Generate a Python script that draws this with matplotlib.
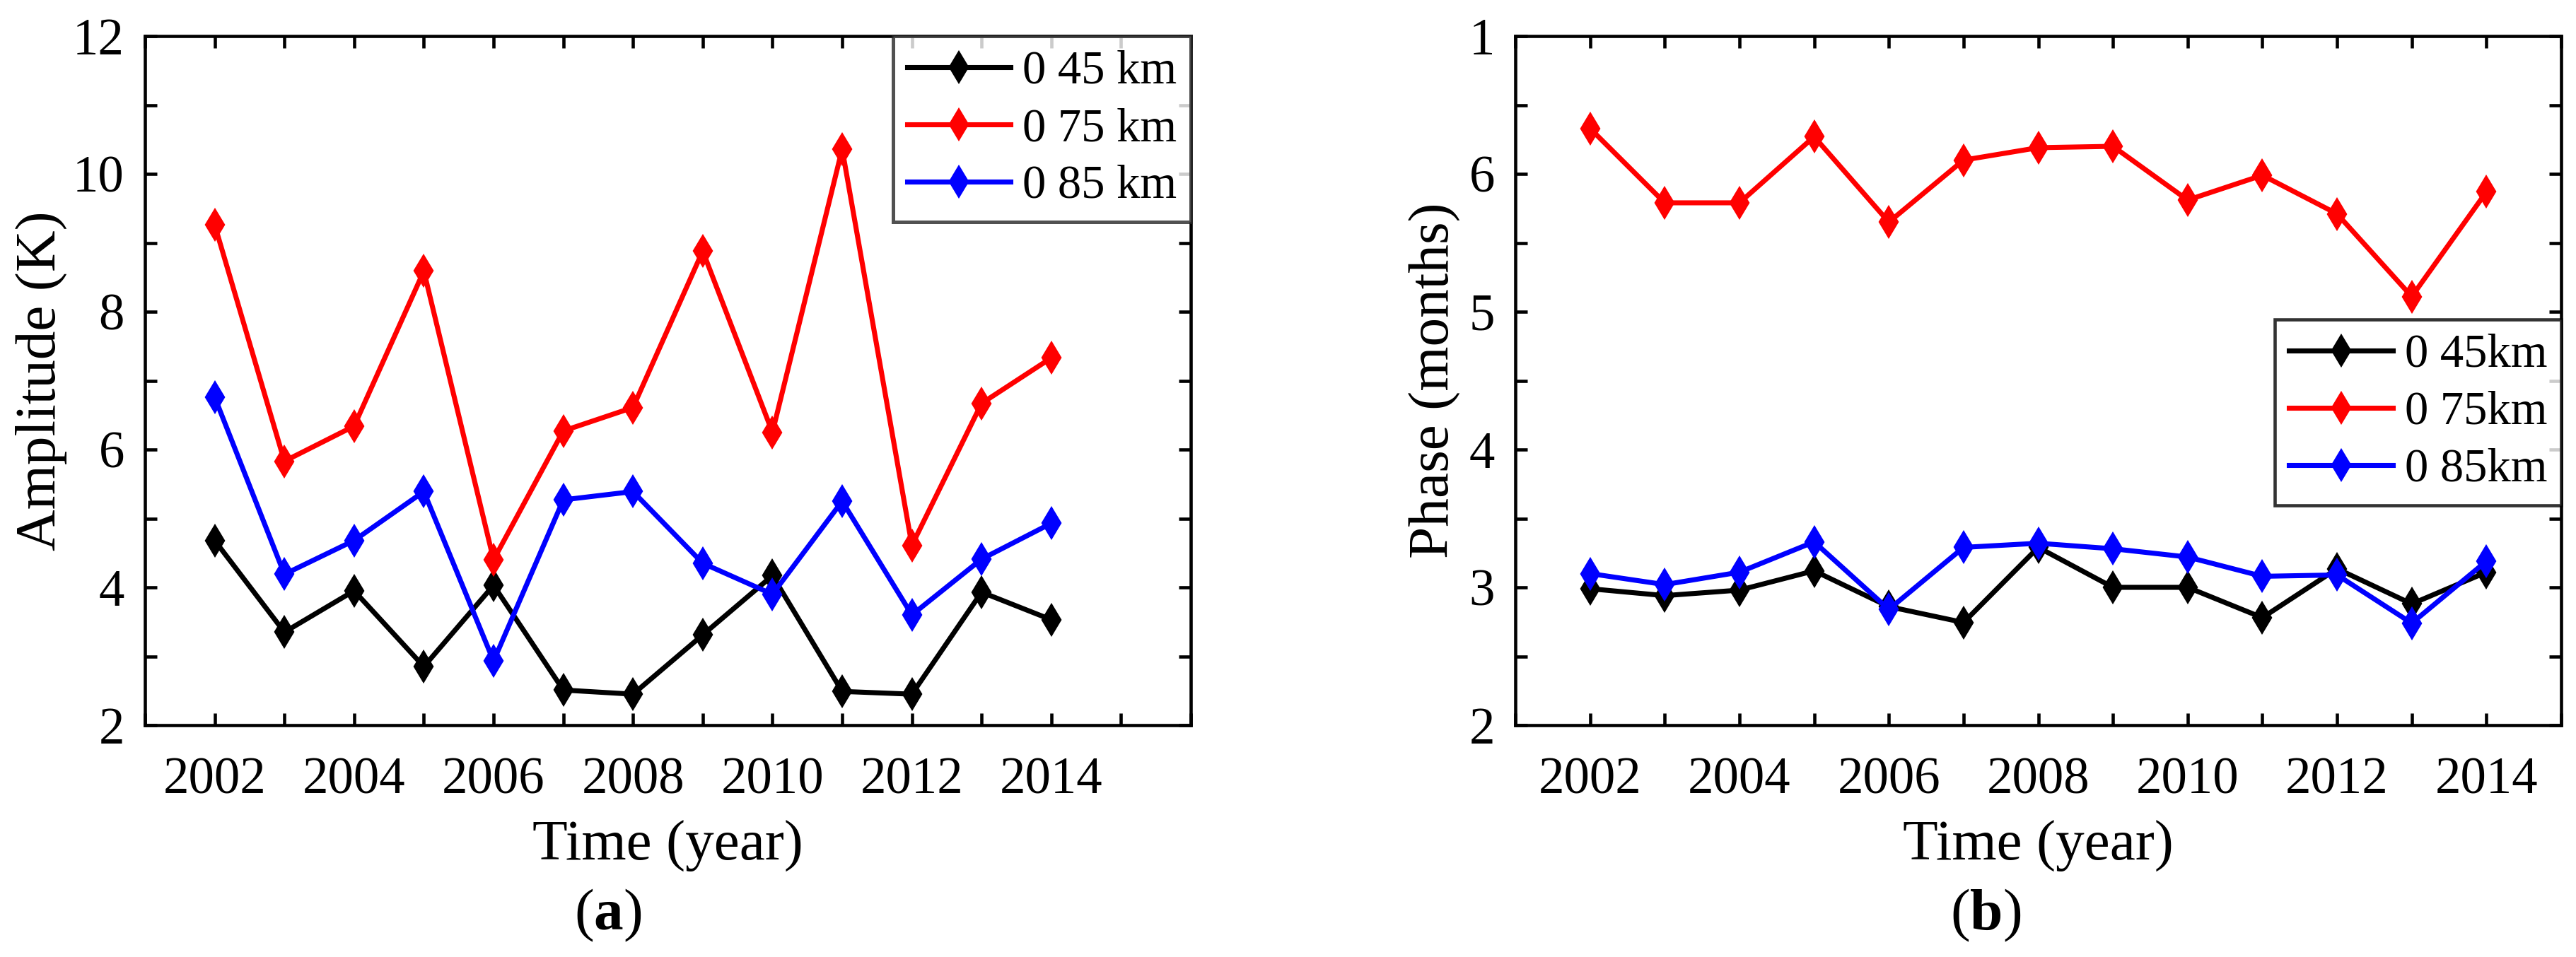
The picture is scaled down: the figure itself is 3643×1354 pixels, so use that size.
import matplotlib
matplotlib.use("Agg")
import matplotlib.pyplot as plt
import numpy as np
from matplotlib.ticker import MultipleLocator, FixedLocator

plt.rcParams['font.family'] = ['Liberation Serif', 'DejaVu Serif']
plt.rcParams['mathtext.fontset'] = 'custom'
plt.rcParams['mathtext.rm'] = 'Liberation Serif'
plt.rcParams['mathtext.bf'] = 'Liberation Serif:bold'

years = [2002, 2003, 2004, 2005, 2006, 2007, 2008, 2009, 2010, 2011, 2012, 2013, 2014]
year_ticks = [2002, 2004, 2006, 2008, 2010, 2012, 2014]

# (a) amplitude, K
amp_45 = [4.68, 3.35, 3.95, 2.85, 4.03, 2.51, 2.45, 3.31, 4.17, 2.49, 2.45, 3.93, 3.53]
amp_75 = [9.26, 5.83, 6.34, 8.59, 4.40, 6.27, 6.61, 8.88, 6.25, 10.36, 4.61, 6.67, 7.33]
amp_85 = [6.76, 4.19, 4.68, 5.39, 2.93, 5.27, 5.39, 4.35, 3.90, 5.25, 3.60, 4.41, 4.93]

# (b) phase, months
ph_45 = [2.99, 2.94, 2.98, 3.12, 2.86, 2.745, 3.29, 3.00, 3.00, 2.78, 3.135, 2.88, 3.11]
ph_75 = [6.33, 5.79, 5.79, 6.27, 5.65, 6.10, 6.19, 6.20, 5.81, 5.99, 5.71, 5.11, 5.87]
ph_85 = [3.10, 3.02, 3.11, 3.33, 2.84, 3.29, 3.32, 3.28, 3.22, 3.08, 3.09, 2.74, 3.19]

labels_a = ['0 45 km', '0 75 km', '0 85 km']
labels_b = ['0 45km', '0 75km', '0 85km']
colors = ['black', '#ff0000', '#0000ff']

phase_ticks = [2, 3, 4, 5, 6, 7]
phase_ticklabels = ['2', '3', '4', '5', '6', '1']

W, H = 3643, 1354
fig = plt.figure(figsize=(W / 300, H / 300), dpi=300)
ax1 = fig.add_axes([205 / W, 1 - 1026 / H, 1479 / W, 975 / H])
ax2 = fig.add_axes([2143 / W, 1 - 1026 / H, 1479 / W, 975 / H])

tick_fs = 17.5
label_fs = 19.5
leg_kw = dict(fontsize=16, fancybox=False, borderaxespad=0, handlelength=2.2,
              handletextpad=0.25, labelspacing=0.3, borderpad=0.3)


def style(ax):
    for s in ax.spines.values():
        s.set_linewidth(1.1)
    ax.tick_params(which='both', direction='in', length=4, width=1.1,
                   top=True, right=True, labelsize=tick_fs)
    ax.tick_params(axis='x', which='both', pad=10.8)
    ax.tick_params(axis='y', which='both', pad=7)
    ax.xaxis.set_major_locator(FixedLocator(year_ticks))
    ax.xaxis.set_minor_locator(MultipleLocator(1))


# (a)
for vals, lab, c in zip([amp_45, amp_75, amp_85], labels_a, colors):
    ax1.plot(years, vals, '-d', color=c, lw=1.7, ms=6.8, mec=c, mew=1, label=lab)
ax1.set_xlim(2001, 2016)
ax1.set_ylim(2, 12)
style(ax1)
ax1.yaxis.set_major_locator(MultipleLocator(2))
ax1.yaxis.set_minor_locator(MultipleLocator(1))
ax1.set_xlabel('Time (year)', fontsize=label_fs)
ax1.set_ylabel('Amplitude (K)', fontsize=label_fs)
ax1.xaxis.set_label_coords(0.5, -0.138)
ax1.yaxis.set_label_coords(-0.0744, 0.5)
leg1 = ax1.legend(loc='upper right', **leg_kw)
leg1.get_frame().set_edgecolor('#262626')
leg1.get_frame().set_linewidth(1.2)

# (b)
for vals, lab, c in zip([ph_45, ph_75, ph_85], labels_b, colors):
    ax2.plot(years, vals, '-d', color=c, lw=1.7, ms=6.8, mec=c, mew=1, label=lab)
ax2.set_xlim(2001, 2015)
ax2.set_ylim(2, 7)
style(ax2)
ax2.yaxis.set_major_locator(FixedLocator(phase_ticks))
ax2.set_yticklabels(phase_ticklabels)
ax2.yaxis.set_minor_locator(MultipleLocator(0.5))
ax2.set_xlabel('Time (year)', fontsize=label_fs)
ax2.set_ylabel('Phase (months)', fontsize=label_fs)
ax2.xaxis.set_label_coords(0.5, -0.138)
ax2.yaxis.set_label_coords(-0.052, 0.5)
leg2 = ax2.legend(loc='lower right', bbox_to_anchor=(1.0, 0.319), **leg_kw)
leg2.get_frame().set_edgecolor('black')
leg2.get_frame().set_linewidth(1.1)

fig.text(860 / W, 1 - 1315 / H, r'($\mathbf{a}$)', fontsize=20, ha='center', va='baseline')
fig.text(2808 / W, 1 - 1315 / H, r'($\mathbf{b}$)', fontsize=20, ha='center', va='baseline')

fig.savefig('out.png', dpi=300)
